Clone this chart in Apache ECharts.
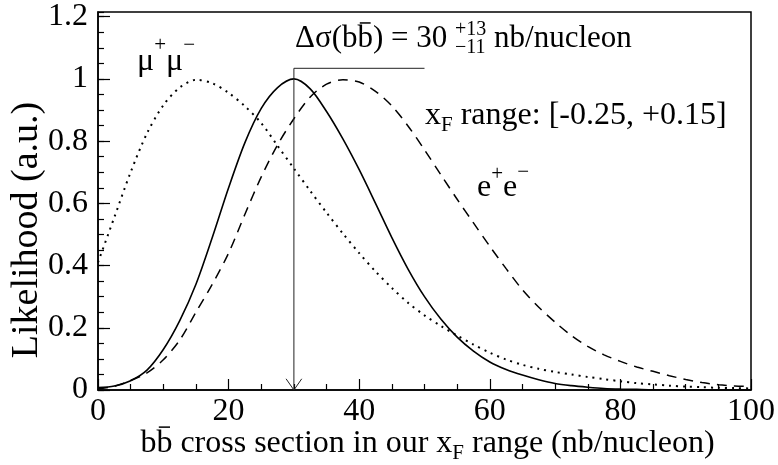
<!DOCTYPE html>
<html><head><meta charset="utf-8">
<script src="https://cdn.jsdelivr.net/npm/echarts@6/dist/echarts.min.js"></script>
<style>html,body{margin:0;padding:0;background:#fff}#c{width:778px;height:465px}</style>
</head><body><div id="c"></div>
<script>
// ---- data ----
const xs = [0,2.5,5,7.5,10,12.5,15,17.5,20,22.5,25,27.5,30,32.5,35,37.5,40,42.5,45,47.5,50,52.5,55,57.5,60,62.5,65,67.5,70,72.5,75,77.5,80,82.5,85,87.5,90,92.5,95,97.5,100];
const combined = [0.008,0.013,0.030,0.064,0.130,0.222,0.340,0.490,0.650,0.795,0.905,0.972,1.000,0.968,0.895,0.807,0.708,0.600,0.490,0.388,0.300,0.228,0.170,0.125,0.090,0.066,0.048,0.033,0.021,0.014,0.009,0.005,0.003,0.002,0.001,0.001,0.000,0.000,0.000,0.000,0.000];
const mumu = [0.410,0.555,0.700,0.825,0.915,0.972,0.997,0.986,0.955,0.912,0.858,0.785,0.712,0.640,0.570,0.503,0.440,0.381,0.328,0.280,0.240,0.206,0.175,0.146,0.120,0.098,0.081,0.068,0.058,0.050,0.042,0.035,0.028,0.022,0.018,0.014,0.011,0.009,0.007,0.006,0.005];
const ee = [0.004,0.012,0.031,0.055,0.097,0.160,0.250,0.340,0.440,0.565,0.685,0.788,0.872,0.942,0.983,0.997,0.990,0.960,0.913,0.848,0.772,0.692,0.613,0.537,0.462,0.390,0.322,0.266,0.218,0.175,0.140,0.113,0.092,0.074,0.060,0.046,0.034,0.024,0.017,0.013,0.011];
const xTicks = [0,20,40,60,80,100];
const yTicks = [0,0.2,0.4,0.6,0.8,1,1.2];
const arrowX = [50,30,30];
const arrowY = [1.034,1.034,0];
const headX = [28.8,30,31.2];
const headY = [0.036,0,0.036];

const FONT = '"Liberation Serif","Times New Roman",Times,serif';
const cv = document.createElement('canvas').getContext('2d');
function W(t,s){cv.font = s+'px '+FONT; return cv.measureText(t).width;}
function T(x, base, t, s){
  return {type:'text', x:x, y:base-0.34*s, silent:true,
    style:{text:t, fontFamily:FONT, fontSize:s, fill:'#000', align:'left', verticalAlign:'middle'}};
}
function run(x0, base, parts){
  const els=[]; let x=x0;
  parts.forEach(p=>{
    if(p.sup!==undefined){
      els.push(T(x, base+p.up, p.sup, p.s));
      els.push(T(x, base+p.down, p.sub, p.s));
      x += Math.max(W(p.sup,p.s), W(p.sub,p.s));
    } else {
      const dy = p.dy||0;
      els.push(T(x, base+dy, p.t, p.s));
      const w = W(p.t,p.s);
      if(p.over){
        const yy = base - 0.84*p.s;
        els.push({type:'line', silent:true, shape:{x1:x+0.15*w,y1:yy,x2:x+0.85*w,y2:yy}, style:{stroke:'#000',lineWidth:1.5}});
      }
      x += w;
    }
  });
  return {els, width:x-x0};
}
function width(parts){ return run(0,0,parts).width; }

const S=32, s=21;
const annot = [{t:'Δσ(b',s:31},{t:'b',s:31,over:true},{t:') = 30 ',s:31},{sup:'+13',sub:'−11',s:20,up:-12,down:6},{t:' nb/nucleon',s:31}];
const xrange = [{t:'x',s:S},{t:'F',s:s,dy:7},{t:' range: [-0.25, +0.15]',s:S}];
const mulab = [{t:'μ',s:S},{t:'+',s:s,dy:-19},{t:'μ',s:S},{t:'−',s:s,dy:-19}];
const eelab = [{t:'e',s:S},{t:'+',s:s,dy:-16},{t:'e',s:S},{t:'−',s:s,dy:-18}];
const xtitle = [{t:'b',s:S},{t:'b',s:S,over:true},{t:' cross section in our x',s:S},{t:'F',s:s,dy:7},{t:' range (nb/nucleon)',s:S}];

const graphics = [].concat(
  run(295, 49, annot).els,
  run(425, 126, xrange).els,
  run(137, 72, mulab).els,
  run(477, 198, eelab).els,
  run(427.5 - width(xtitle)/2, 454, xtitle).els,
  [{type:'text', x:27, y:230, rotation:Math.PI/2, silent:true,
    style:{text:'Likelihood (a.u.)', fontFamily:FONT, fontSize:38, fill:'#000', align:'center', verticalAlign:'middle'}}]
);

const chart = echarts.init(document.getElementById('c'), null, {renderer:'canvas'});
const axisLine = {show:true, onZero:false, lineStyle:{color:'#000', width:1.5}};
const tickStyle = {color:'#000', width:1.2};
chart.setOption({
  animation:false,
  backgroundColor:'#fff',
  grid:{left:98, right:25, top:12, bottom:75, show:true, borderColor:'#000', borderWidth:1.5, backgroundColor:'transparent', containLabel:false},
  xAxis:[{type:'value', min:0, max:100, interval:20, axisLine,
    axisTick:{show:true, inside:true, length:11, lineStyle:tickStyle},
    minorTick:{show:true, splitNumber:4, length:6, lineStyle:tickStyle},
    splitLine:{show:false}, minorSplitLine:{show:false},
    axisLabel:{fontFamily:FONT, fontSize:32, color:'#000', margin:6,
      formatter:v=> xTicks.indexOf(v)>=0 ? String(v) : ''}}],
  yAxis:[
    {type:'value', min:0, max:1.215, interval:0.2, position:'left', axisLine,
      axisTick:{show:true, inside:true, length:12, lineStyle:tickStyle},
      splitLine:{show:false},
      axisLabel:{fontFamily:FONT, fontSize:32, color:'#000', margin:10, showMaxLabel:false,
        formatter:v=>{ const r=+v.toFixed(3); return yTicks.indexOf(r)>=0 ? String(r) : ''; }}},
    {type:'value', min:0, max:1.215, interval:0.05, position:'left', axisLine:{show:false},
      axisTick:{show:true, inside:true, length:6, lineStyle:tickStyle},
      axisLabel:{show:false}, splitLine:{show:false}}
  ],
  series:[
    {type:'line', name:'combined', data:xs.map((x,i)=>[x,combined[i]]), showSymbol:false, smooth:0.3,
      lineStyle:{color:'#000', width:1.6}, silent:true},
    {type:'line', name:'mumu', data:xs.map((x,i)=>[x,mumu[i]]), showSymbol:false, smooth:0.3,
      lineStyle:{color:'#000', width:2, type:[2,5]}, silent:true},
    {type:'line', name:'ee', data:xs.map((x,i)=>[x,ee[i]]), showSymbol:false, smooth:0.3,
      lineStyle:{color:'#000', width:1.5, type:[10,7]}, silent:true},
    {type:'line', name:'arrow', data:arrowX.map((x,i)=>[x,arrowY[i]]), showSymbol:false,
      lineStyle:{color:'#222', width:1}, silent:true},
    {type:'line', name:'head', data:headX.map((x,i)=>[x,headY[i]]), showSymbol:false,
      lineStyle:{color:'#222', width:1}, silent:true}
  ],
  graphic:graphics
});
</script></body></html>
